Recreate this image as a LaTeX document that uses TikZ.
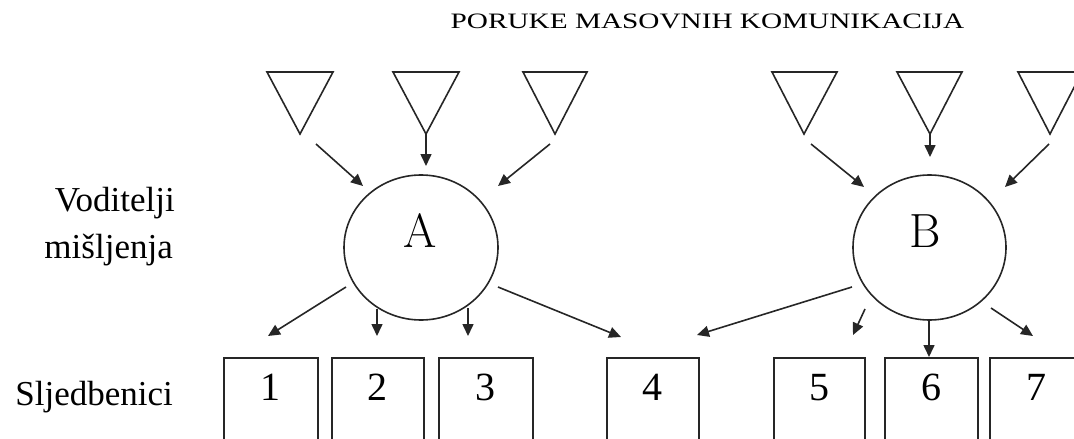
\documentclass[tikz,border=0pt]{standalone}
\usepackage{fontspec}
\setmainfont{Liberation Serif}
\newfontfamily\lmfont{Latin Modern Roman}
\usetikzlibrary{arrows.meta}
\tikzset{
  ln/.style={draw=black!85, line width=1.6pt},
  arr/.style={ln, -{Triangle[length=12pt,width=11pt]}},
  tri/.style={ln, line join=miter},
  box/.style={ln, rectangle, minimum width=#1, minimum height=110pt, anchor=north west, inner sep=0pt},
  num/.style={font=\fontsize{40}{40}\selectfont, anchor=base, inner sep=0pt},
  lbl/.style={font=\fontsize{35}{35}\selectfont, anchor=base east, inner sep=0pt},
  big/.style={font=\lmfont\fontsize{48}{48}\selectfont, anchor=base, inner sep=0pt},
}
\begin{document}
\begin{tikzpicture}[x=1pt,y=-1pt]
\useasboundingbox (0,0) rectangle (1074,439);
\clip (0,0) rectangle (1074,439);
% title
\node[font=\fontsize{22}{22}\selectfont, anchor=base, inner sep=0pt, xscale=1.33] (title) at (707.5,28.5) {PORUKE MASOVNIH KOMUNIKACIJA};
% side labels
\node[lbl] (vod) at (175,211) {Voditelji};
\node[lbl] (mis) at (173,258) {mišljenja};
\node[lbl] (slj) at (173,405) {Sljedbenici};
% triangles
\foreach \n/\l/\r/\c in {ta1/267/333/300, ta2/393/459/426, ta3/523/587/555,
                         tb1/772/837/804, tb2/897/962/930, tb3/1018/1082/1050}{
  \draw[tri] (\l,72) -- (\r,72) -- (\c,134) coordinate (\n) -- cycle;
}
% opinion leaders
\draw[ln] (421,247.5) ellipse [x radius=77, y radius=72.5];
\coordinate (A) at (421,247.5);
\node[big] (lA) at (420.5,247) {A};
\draw[ln] (929.5,247.5) ellipse [x radius=76.5, y radius=72.5];
\coordinate (B) at (929.5,247.5);
\node[big] (lB) at (925.5,247) {B};
% followers
\node[box=94pt]  (b1) at (223,357) {};
\node[box=92pt]  (b2) at (331,357) {};
\node[box=94pt]  (b3) at (438,357) {};
\node[box=92pt]  (b4) at (606,357) {};
\node[box=91pt]  (b5) at (773,357) {};
\node[box=93pt]  (b6) at (884,357) {};
\node[box=94pt]  (b7) at (989,357) {};
\foreach \i in {1,...,7}{ \node[num] (n\i) at ([yshift=-43pt]b\i.north) {\i}; }
% arrows into A
\coordinate (a1s) at (316,144); \coordinate (a1e) at (363,186);
\coordinate (a2e) at (426,166);
\coordinate (a3s) at (550,144); \coordinate (a3e) at (498,186);
\draw[arr] (a1s) -- (a1e);
\draw[arr] (ta2) -- (a2e);
\draw[arr] (a3s) -- (a3e);
% arrows into B
\coordinate (b1s) at (811,144); \coordinate (b1e) at (864,187);
\coordinate (b2e) at (930,157);
\coordinate (b3s) at (1049,144); \coordinate (b3e) at (1005,187);
\draw[arr] (b1s) -- (b1e);
\draw[arr] (tb2) -- (b2e);
\draw[arr] (b3s) -- (b3e);
% arrows out of A
\coordinate (o1s) at (346,287); \coordinate (o1e) at (268,336);
\coordinate (o2s) at (377,309); \coordinate (o2e) at (377,336);
\coordinate (o3s) at (468,308); \coordinate (o3e) at (468,336);
\coordinate (o4s) at (498,287); \coordinate (o4e) at (621,337);
\draw[arr] (o1s) -- (o1e);
\draw[arr] (o2s) -- (o2e);
\draw[arr] (o3s) -- (o3e);
\draw[arr] (o4s) -- (o4e);
% arrows out of B
\coordinate (p4s) at (852,287); \coordinate (p4e) at (697,335);
\coordinate (p5s) at (865,309); \coordinate (p5e) at (853,335);
\coordinate (p6s) at (929,320);
\coordinate (p7s) at (991,308); \coordinate (p7e) at (1033,336);
\draw[arr] (p4s) -- (p4e);
\draw[arr] (p5s) -- (p5e);
\draw[arr] (p6s) -- (b6.north -| p6s);
\draw[arr] (p7s) -- (p7e);
\end{tikzpicture}
\end{document}
